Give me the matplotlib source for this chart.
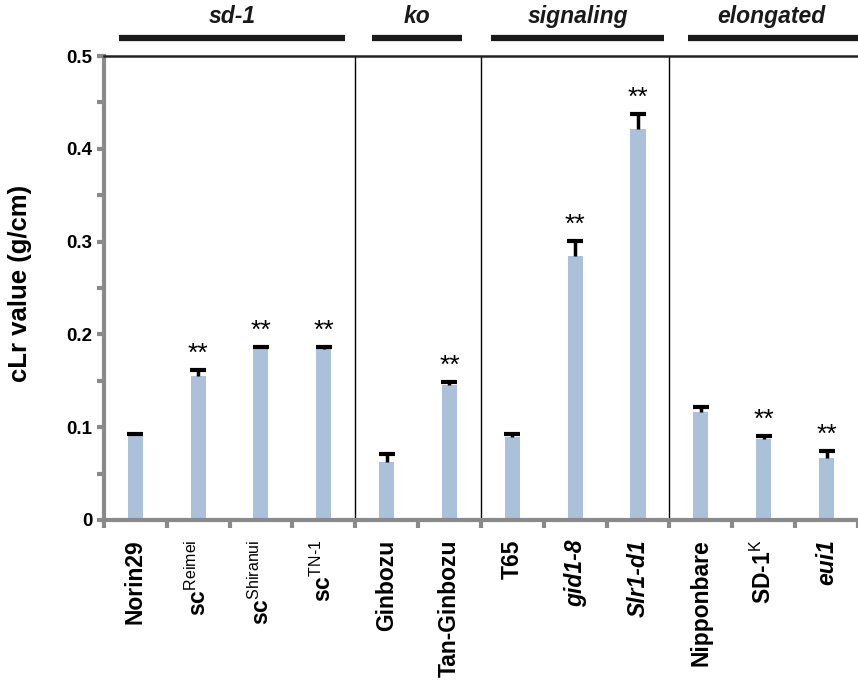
import matplotlib
matplotlib.use('Agg')
import matplotlib.pyplot as plt
import numpy as np

plt.rcParams['font.family'] = ['Liberation Sans', 'DejaVu Sans']
plt.rcParams['mathtext.fontset'] = 'custom'
plt.rcParams['mathtext.rm'] = 'Liberation Sans'
plt.rcParams['mathtext.it'] = 'Liberation Sans:italic'
plt.rcParams['mathtext.bf'] = 'Liberation Sans:bold'

# data
labels = ['Norin29', r'sc$^{\mathrm{Reimei}}$', r'sc$^{\mathrm{Shiranui}}$',
          r'sc$^{\mathrm{TN\text{-}1}}$', 'Ginbozu', 'Tan-Ginbozu', 'T65',
          'gid1-8', 'Slr1-d1', 'Nipponbare', r'SD-1$^{\mathrm{K}}$', 'eui1']
italic = [False, False, False, False, False, False, False,
          True, True, False, False, True]
values = [0.092, 0.155, 0.185, 0.184, 0.062, 0.145, 0.089,
          0.284, 0.421, 0.116, 0.087, 0.067]
errors = [0.001, 0.007, 0.001, 0.002, 0.009, 0.004, 0.004,
          0.017, 0.016, 0.006, 0.004, 0.007]
signif = [False, True, True, True, False, True, False,
          True, True, False, True, True]
groups = ['sd-1', 'ko', 'signaling', 'elongated']
group_first = [0, 4, 6, 9]
# extent of the black bar drawn over each group (x units)
group_bars = [(-0.26, 3.34), (3.77, 5.2), (5.66, 8.42), (8.79, 11.6)]

BAR = '#abc1da'
GREY = '#8a8a8a'

fig = plt.figure(figsize=(8.58, 6.8), dpi=100)
ax = fig.add_axes([0.121, 0.2353, 0.879, 0.6823])

x = np.arange(len(values))
tops = np.array(values) + np.array(errors)
ax.bar(x, values, width=0.24, color=BAR, zorder=2)
# upper error bars only
ax.vlines(x, values, tops, color='black', lw=2.5, zorder=3)
ax.plot(x, tops, ls='none', marker='_', ms=11, mew=3, color='black', zorder=3)
for xi, t, s in zip(x, tops, signif):
    if s:
        ax.annotate('**', (xi, t), xytext=(0, 3), textcoords='offset points',
                    ha='center', va='bottom', fontsize=19)

ax.set_xlim(-0.5, 11.47)
ax.set_ylim(0, 0.5)

# separators between groups
for start in group_first[1:]:
    ax.axvline(start - 0.5, color='black', lw=1, zorder=1)

ax.set_yticks(np.arange(0, 0.51, 0.1))
ax.set_yticklabels(['0', '0.1', '0.2', '0.3', '0.4', '0.5'],
                   fontsize=13.5, fontweight='bold')
ax.set_yticks(np.arange(0, 0.51, 0.05), minor=True)
ax.tick_params(axis='y', which='both', length=5, width=3, color=GREY, pad=3)

ax.set_xticks(x)
ax.set_xticklabels(labels, rotation=90, fontsize=16.5, fontweight='bold')
for t, it in zip(ax.get_xticklabels(), italic):
    if it:
        t.set_fontstyle('italic')
ax.set_xticks(np.arange(-0.5, 12, 1.0), minor=True)
ax.tick_params(axis='x', which='major', length=0, pad=14)
ax.tick_params(axis='x', which='minor', length=6, width=3, color=GREY)

ax.set_ylabel('cLr value (g/cm)', fontsize=18.5, fontweight='bold')
ax.yaxis.set_label_coords(-0.095, 0.51)

ax.spines['right'].set_visible(False)
ax.spines['left'].set_color(GREY)
ax.spines['left'].set_linewidth(3)
ax.spines['bottom'].set_color(GREY)
ax.spines['bottom'].set_linewidth(3)
ax.spines['top'].set_color('#222222')
ax.spines['top'].set_linewidth(1.8)

# group bars above the plot
tr = ax.get_xaxis_transform()
for name, (x0, x1) in zip(groups, group_bars):
    ax.plot([x0, x1], [1.039, 1.039], color='#1a1a1a', lw=4.5,
            transform=tr, clip_on=False, solid_capstyle='butt')
    ax.text((x0 + min(x1, 11.47)) / 2, 1.06, name, transform=tr, ha='center',
            va='bottom', fontsize=16.5, fontweight='bold', fontstyle='italic',
            color='#1a1a1a')

fig.savefig('out.png', dpi=100)
